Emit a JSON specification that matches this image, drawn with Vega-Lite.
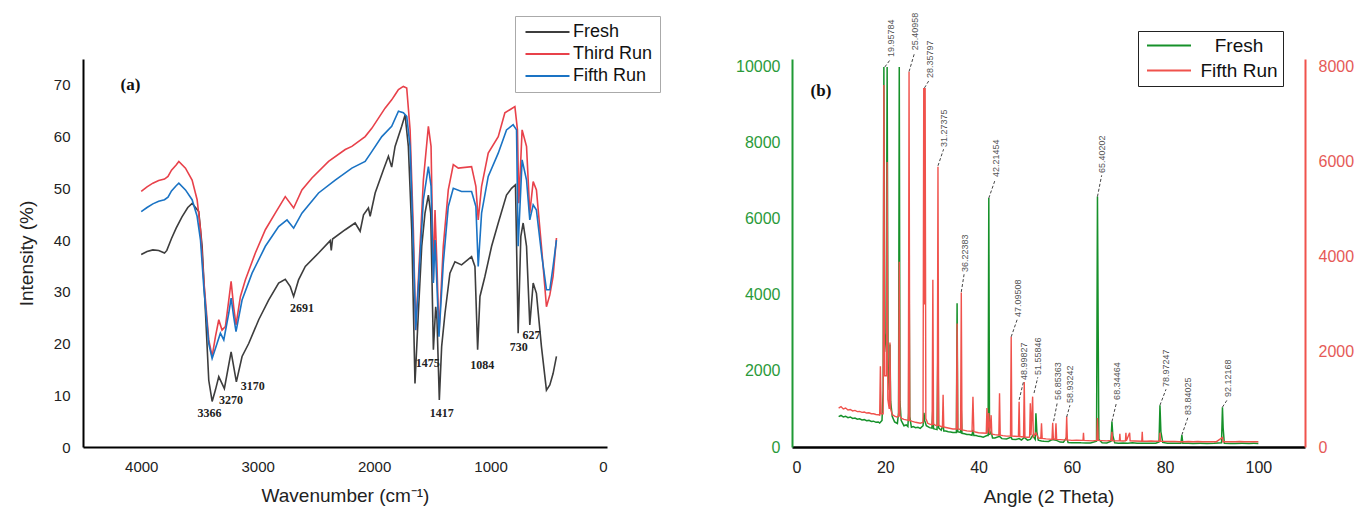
{
  "$schema": "https://vega.github.io/schema/vega-lite/v6.json",
  "background": "white",
  "padding": {"left": 17, "top": 12, "right": 2, "bottom": 2},
  "bounds": "flush",
  "spacing": 185,
  "config": {
    "view": {"stroke": null},
    "font": "Liberation Sans",
    "axis": {"grid": false, "ticks": false, "tickSize": 0, "labelFont": "Liberation Sans", "titleFont": "Liberation Sans", "titleFontWeight": "normal", "labelColor": "#222222", "titleColor": "#222222"}
  },
  "resolve": {"scale": {"color": "independent"}, "legend": {"color": "independent"}},
  "datasets": {
    "ftir": [
      {"s":"Fresh","w":4000,"v":37.2},{"s":"Fresh","w":3950,"v":37.8},{"s":"Fresh","w":3900,"v":38.1},{"s":"Fresh","w":3850,"v":38.0},{"s":"Fresh","w":3800,"v":37.5},{"s":"Fresh","w":3780,"v":38.0},{"s":"Fresh","w":3740,"v":40.3},{"s":"Fresh","w":3700,"v":42.3},{"s":"Fresh","w":3650,"v":44.5},{"s":"Fresh","w":3600,"v":46.3},{"s":"Fresh","w":3563,"v":47.1},{"s":"Fresh","w":3506,"v":45.5},{"s":"Fresh","w":3477,"v":38.8},{"s":"Fresh","w":3448,"v":25.9},{"s":"Fresh","w":3420,"v":12.9},{"s":"Fresh","w":3391,"v":8.8},{"s":"Fresh","w":3363,"v":11.0},{"s":"Fresh","w":3334,"v":13.6},{"s":"Fresh","w":3286,"v":11.3},{"s":"Fresh","w":3228,"v":18.4},{"s":"Fresh","w":3183,"v":12.6},{"s":"Fresh","w":3134,"v":17.5},{"s":"Fresh","w":3077,"v":20.0},{"s":"Fresh","w":2991,"v":24.6},{"s":"Fresh","w":2906,"v":28.4},{"s":"Fresh","w":2820,"v":31.7},{"s":"Fresh","w":2763,"v":32.4},{"s":"Fresh","w":2720,"v":31.0},{"s":"Fresh","w":2691,"v":29.1},{"s":"Fresh","w":2649,"v":32.3},{"s":"Fresh","w":2591,"v":34.9},{"s":"Fresh","w":2477,"v":37.5},{"s":"Fresh","w":2377,"v":39.9},{"s":"Fresh","w":2368,"v":38.0},{"s":"Fresh","w":2357,"v":40.2},{"s":"Fresh","w":2248,"v":42.0},{"s":"Fresh","w":2163,"v":43.3},{"s":"Fresh","w":2120,"v":41.7},{"s":"Fresh","w":2091,"v":44.9},{"s":"Fresh","w":2049,"v":46.2},{"s":"Fresh","w":2034,"v":44.6},{"s":"Fresh","w":1991,"v":49.1},{"s":"Fresh","w":1920,"v":53.6},{"s":"Fresh","w":1877,"v":56.2},{"s":"Fresh","w":1849,"v":54.1},{"s":"Fresh","w":1820,"v":58.1},{"s":"Fresh","w":1763,"v":62.0},{"s":"Fresh","w":1734,"v":64.2},{"s":"Fresh","w":1706,"v":58.1},{"s":"Fresh","w":1677,"v":42.0},{"s":"Fresh","w":1649,"v":12.3},{"s":"Fresh","w":1620,"v":25.9},{"s":"Fresh","w":1591,"v":38.8},{"s":"Fresh","w":1563,"v":45.2},{"s":"Fresh","w":1534,"v":48.7},{"s":"Fresh","w":1514,"v":45.2},{"s":"Fresh","w":1491,"v":18.8},{"s":"Fresh","w":1471,"v":27.1},{"s":"Fresh","w":1460,"v":24.6},{"s":"Fresh","w":1440,"v":9.1},{"s":"Fresh","w":1420,"v":19.4},{"s":"Fresh","w":1391,"v":25.9},{"s":"Fresh","w":1349,"v":33.6},{"s":"Fresh","w":1306,"v":35.8},{"s":"Fresh","w":1249,"v":35.2},{"s":"Fresh","w":1163,"v":36.8},{"s":"Fresh","w":1134,"v":34.9},{"s":"Fresh","w":1111,"v":18.8},{"s":"Fresh","w":1091,"v":29.1},{"s":"Fresh","w":1049,"v":32.9},{"s":"Fresh","w":991,"v":38.8},{"s":"Fresh","w":934,"v":43.3},{"s":"Fresh","w":863,"v":48.7},{"s":"Fresh","w":820,"v":50.0},{"s":"Fresh","w":786,"v":50.7},{"s":"Fresh","w":763,"v":22.0},{"s":"Fresh","w":740,"v":40.7},{"s":"Fresh","w":720,"v":43.3},{"s":"Fresh","w":691,"v":38.8},{"s":"Fresh","w":663,"v":23.6},{"s":"Fresh","w":634,"v":31.7},{"s":"Fresh","w":606,"v":29.7},{"s":"Fresh","w":563,"v":19.4},{"s":"Fresh","w":520,"v":11.0},{"s":"Fresh","w":491,"v":12.0},{"s":"Fresh","w":463,"v":14.2},{"s":"Fresh","w":434,"v":17.5},
      {"s":"Third Run","w":4000,"v":49.4},{"s":"Third Run","w":3950,"v":50.3},{"s":"Third Run","w":3900,"v":51.0},{"s":"Third Run","w":3850,"v":51.5},{"s":"Third Run","w":3800,"v":51.8},{"s":"Third Run","w":3770,"v":52.3},{"s":"Third Run","w":3740,"v":53.5},{"s":"Third Run","w":3700,"v":54.5},{"s":"Third Run","w":3677,"v":55.2},{"s":"Third Run","w":3620,"v":53.9},{"s":"Third Run","w":3563,"v":51.6},{"s":"Third Run","w":3520,"v":47.8},{"s":"Third Run","w":3491,"v":42.0},{"s":"Third Run","w":3463,"v":32.3},{"s":"Third Run","w":3420,"v":20.7},{"s":"Third Run","w":3391,"v":17.5},{"s":"Third Run","w":3363,"v":21.3},{"s":"Third Run","w":3334,"v":24.6},{"s":"Third Run","w":3306,"v":22.6},{"s":"Third Run","w":3277,"v":23.3},{"s":"Third Run","w":3248,"v":28.4},{"s":"Third Run","w":3228,"v":32.0},{"s":"Third Run","w":3206,"v":27.1},{"s":"Third Run","w":3186,"v":23.6},{"s":"Third Run","w":3148,"v":29.1},{"s":"Third Run","w":3106,"v":32.3},{"s":"Third Run","w":3020,"v":37.5},{"s":"Third Run","w":2934,"v":42.0},{"s":"Third Run","w":2849,"v":45.2},{"s":"Third Run","w":2763,"v":48.4},{"s":"Third Run","w":2691,"v":46.2},{"s":"Third Run","w":2620,"v":49.7},{"s":"Third Run","w":2534,"v":52.0},{"s":"Third Run","w":2391,"v":55.2},{"s":"Third Run","w":2248,"v":57.5},{"s":"Third Run","w":2191,"v":58.1},{"s":"Third Run","w":2077,"v":60.0},{"s":"Third Run","w":2020,"v":61.6},{"s":"Third Run","w":1906,"v":65.5},{"s":"Third Run","w":1849,"v":67.1},{"s":"Third Run","w":1820,"v":68.1},{"s":"Third Run","w":1791,"v":69.1},{"s":"Third Run","w":1749,"v":69.7},{"s":"Third Run","w":1720,"v":69.4},{"s":"Third Run","w":1691,"v":61.3},{"s":"Third Run","w":1663,"v":42.0},{"s":"Third Run","w":1643,"v":22.6},{"s":"Third Run","w":1620,"v":32.3},{"s":"Third Run","w":1577,"v":51.6},{"s":"Third Run","w":1534,"v":62.0},{"s":"Third Run","w":1511,"v":58.1},{"s":"Third Run","w":1491,"v":32.3},{"s":"Third Run","w":1477,"v":45.8},{"s":"Third Run","w":1460,"v":34.9},{"s":"Third Run","w":1443,"v":22.0},{"s":"Third Run","w":1406,"v":38.8},{"s":"Third Run","w":1363,"v":49.7},{"s":"Third Run","w":1320,"v":54.6},{"s":"Third Run","w":1277,"v":53.9},{"s":"Third Run","w":1163,"v":54.2},{"s":"Third Run","w":1126,"v":50.4},{"s":"Third Run","w":1106,"v":43.9},{"s":"Third Run","w":1077,"v":50.4},{"s":"Third Run","w":1020,"v":56.8},{"s":"Third Run","w":934,"v":60.0},{"s":"Third Run","w":877,"v":64.6},{"s":"Third Run","w":834,"v":65.2},{"s":"Third Run","w":791,"v":65.8},{"s":"Third Run","w":769,"v":61.3},{"s":"Third Run","w":757,"v":47.1},{"s":"Third Run","w":729,"v":61.3},{"s":"Third Run","w":691,"v":58.1},{"s":"Third Run","w":663,"v":45.2},{"s":"Third Run","w":634,"v":51.3},{"s":"Third Run","w":606,"v":49.7},{"s":"Third Run","w":563,"v":38.8},{"s":"Third Run","w":534,"v":31.0},{"s":"Third Run","w":520,"v":27.1},{"s":"Third Run","w":491,"v":29.4},{"s":"Third Run","w":463,"v":33.0},{"s":"Third Run","w":434,"v":40.4},
      {"s":"Fifth Run","w":4000,"v":45.5},{"s":"Fifth Run","w":3950,"v":46.3},{"s":"Fifth Run","w":3900,"v":47.0},{"s":"Fifth Run","w":3850,"v":47.5},{"s":"Fifth Run","w":3800,"v":47.8},{"s":"Fifth Run","w":3770,"v":48.3},{"s":"Fifth Run","w":3740,"v":49.5},{"s":"Fifth Run","w":3700,"v":50.5},{"s":"Fifth Run","w":3677,"v":51.0},{"s":"Fifth Run","w":3620,"v":49.7},{"s":"Fifth Run","w":3563,"v":47.8},{"s":"Fifth Run","w":3520,"v":44.6},{"s":"Fifth Run","w":3491,"v":40.0},{"s":"Fifth Run","w":3463,"v":31.0},{"s":"Fifth Run","w":3420,"v":20.0},{"s":"Fifth Run","w":3391,"v":17.1},{"s":"Fifth Run","w":3349,"v":20.0},{"s":"Fifth Run","w":3320,"v":22.0},{"s":"Fifth Run","w":3291,"v":20.7},{"s":"Fifth Run","w":3248,"v":25.9},{"s":"Fifth Run","w":3228,"v":28.8},{"s":"Fifth Run","w":3206,"v":25.2},{"s":"Fifth Run","w":3186,"v":22.3},{"s":"Fifth Run","w":3134,"v":28.4},{"s":"Fifth Run","w":3048,"v":33.6},{"s":"Fifth Run","w":2934,"v":38.8},{"s":"Fifth Run","w":2820,"v":42.6},{"s":"Fifth Run","w":2748,"v":43.9},{"s":"Fifth Run","w":2691,"v":42.3},{"s":"Fifth Run","w":2620,"v":45.2},{"s":"Fifth Run","w":2477,"v":49.1},{"s":"Fifth Run","w":2334,"v":51.6},{"s":"Fifth Run","w":2191,"v":53.9},{"s":"Fifth Run","w":2077,"v":55.2},{"s":"Fifth Run","w":2020,"v":57.1},{"s":"Fifth Run","w":1934,"v":60.0},{"s":"Fifth Run","w":1849,"v":62.0},{"s":"Fifth Run","w":1791,"v":64.9},{"s":"Fifth Run","w":1749,"v":64.6},{"s":"Fifth Run","w":1720,"v":63.9},{"s":"Fifth Run","w":1691,"v":58.1},{"s":"Fifth Run","w":1663,"v":38.8},{"s":"Fifth Run","w":1643,"v":22.6},{"s":"Fifth Run","w":1620,"v":31.0},{"s":"Fifth Run","w":1577,"v":47.8},{"s":"Fifth Run","w":1534,"v":54.2},{"s":"Fifth Run","w":1511,"v":50.4},{"s":"Fifth Run","w":1491,"v":31.7},{"s":"Fifth Run","w":1477,"v":40.0},{"s":"Fifth Run","w":1460,"v":31.0},{"s":"Fifth Run","w":1443,"v":21.3},{"s":"Fifth Run","w":1406,"v":35.5},{"s":"Fifth Run","w":1363,"v":46.5},{"s":"Fifth Run","w":1320,"v":50.0},{"s":"Fifth Run","w":1249,"v":49.4},{"s":"Fifth Run","w":1163,"v":49.4},{"s":"Fifth Run","w":1126,"v":46.5},{"s":"Fifth Run","w":1106,"v":34.9},{"s":"Fifth Run","w":1077,"v":45.2},{"s":"Fifth Run","w":1020,"v":52.3},{"s":"Fifth Run","w":934,"v":56.8},{"s":"Fifth Run","w":863,"v":61.3},{"s":"Fifth Run","w":806,"v":62.3},{"s":"Fifth Run","w":777,"v":61.3},{"s":"Fifth Run","w":763,"v":38.8},{"s":"Fifth Run","w":729,"v":55.5},{"s":"Fifth Run","w":691,"v":51.6},{"s":"Fifth Run","w":663,"v":43.9},{"s":"Fifth Run","w":634,"v":46.8},{"s":"Fifth Run","w":606,"v":45.8},{"s":"Fifth Run","w":563,"v":37.5},{"s":"Fifth Run","w":520,"v":30.4},{"s":"Fifth Run","w":491,"v":30.4},{"s":"Fifth Run","w":463,"v":34.9},{"s":"Fifth Run","w":434,"v":40.0}
    ],
    "ftirLabels": [
      {"w":3414,"v":6.5,"t":"3366"},{"w":3228,"v":9.0,"t":"3270"},{"w":3043,"v":11.7,"t":"3170"},{"w":2620,"v":26.8,"t":"2691"},{"w":1540,"v":16.3,"t":"1475"},{"w":1420,"v":6.5,"t":"1417"},{"w":1071,"v":15.9,"t":"1084"},{"w":757,"v":19.3,"t":"730"},{"w":649,"v":21.7,"t":"627"}
    ],
    "xrdFresh": [
      {"s":"Fresh","a":10,"i":800},{"s":"Fresh","a":10.5,"i":830},{"s":"Fresh","a":11,"i":790},{"s":"Fresh","a":11.5,"i":810},{"s":"Fresh","a":12,"i":770},{"s":"Fresh","a":12.5,"i":790},{"s":"Fresh","a":13,"i":750},{"s":"Fresh","a":13.5,"i":760},{"s":"Fresh","a":14,"i":730},{"s":"Fresh","a":14.5,"i":740},{"s":"Fresh","a":15,"i":710},{"s":"Fresh","a":15.5,"i":720},{"s":"Fresh","a":16,"i":690},{"s":"Fresh","a":16.5,"i":700},{"s":"Fresh","a":17,"i":670},{"s":"Fresh","a":17.5,"i":680},{"s":"Fresh","a":18,"i":650},{"s":"Fresh","a":18.5,"i":660},{"s":"Fresh","a":18.8,"i":630},{"s":"Fresh","a":19.3,"i":700},{"s":"Fresh","a":19.55,"i":1500},{"s":"Fresh","a":19.7,"i":10000},{"s":"Fresh","a":19.85,"i":2500},{"s":"Fresh","a":20.2,"i":3000},{"s":"Fresh","a":20.4,"i":10000},{"s":"Fresh","a":20.6,"i":2000},{"s":"Fresh","a":20.85,"i":1500},{"s":"Fresh","a":21.0,"i":2700},{"s":"Fresh","a":21.15,"i":1200},{"s":"Fresh","a":21.5,"i":800},{"s":"Fresh","a":22,"i":660},{"s":"Fresh","a":22.6,"i":620},{"s":"Fresh","a":22.85,"i":900},{"s":"Fresh","a":23.0,"i":10000},{"s":"Fresh","a":23.15,"i":1200},{"s":"Fresh","a":23.4,"i":700},{"s":"Fresh","a":24,"i":560},{"s":"Fresh","a":24.5,"i":580},{"s":"Fresh","a":24.85,"i":540},{"s":"Fresh","a":25.0,"i":900},{"s":"Fresh","a":25.1,"i":5100},{"s":"Fresh","a":25.25,"i":800},{"s":"Fresh","a":25.6,"i":520},{"s":"Fresh","a":26,"i":540},{"s":"Fresh","a":26.5,"i":510},{"s":"Fresh","a":27,"i":520},{"s":"Fresh","a":27.5,"i":490},{"s":"Fresh","a":28.1,"i":560},{"s":"Fresh","a":28.3,"i":900},{"s":"Fresh","a":28.45,"i":700},{"s":"Fresh","a":28.8,"i":560},{"s":"Fresh","a":29.5,"i":510},{"s":"Fresh","a":30.0,"i":500},{"s":"Fresh","a":30.2,"i":1000},{"s":"Fresh","a":30.35,"i":480},{"s":"Fresh","a":30.7,"i":470},{"s":"Fresh","a":31.1,"i":460},{"s":"Fresh","a":31.3,"i":2770},{"s":"Fresh","a":31.45,"i":500},{"s":"Fresh","a":32.0,"i":440},{"s":"Fresh","a":32.4,"i":600},{"s":"Fresh","a":32.55,"i":420},{"s":"Fresh","a":33,"i":420},{"s":"Fresh","a":33.5,"i":400},{"s":"Fresh","a":34,"i":395},{"s":"Fresh","a":34.5,"i":380},{"s":"Fresh","a":35.25,"i":380},{"s":"Fresh","a":35.4,"i":3780},{"s":"Fresh","a":35.55,"i":400},{"s":"Fresh","a":36.15,"i":380},{"s":"Fresh","a":36.3,"i":970},{"s":"Fresh","a":36.45,"i":360},{"s":"Fresh","a":37,"i":350},{"s":"Fresh","a":37.5,"i":330},{"s":"Fresh","a":38,"i":330},{"s":"Fresh","a":38.6,"i":310},{"s":"Fresh","a":38.8,"i":450},{"s":"Fresh","a":39.0,"i":300},{"s":"Fresh","a":39.5,"i":300},{"s":"Fresh","a":40.0,"i":280},{"s":"Fresh","a":40.5,"i":275},{"s":"Fresh","a":41.0,"i":260},{"s":"Fresh","a":41.8,"i":300},{"s":"Fresh","a":42.05,"i":300},{"s":"Fresh","a":42.2,"i":6550},{"s":"Fresh","a":42.35,"i":320},{"s":"Fresh","a":42.7,"i":400},{"s":"Fresh","a":43.0,"i":240},{"s":"Fresh","a":43.5,"i":240},{"s":"Fresh","a":44.5,"i":280},{"s":"Fresh","a":45,"i":220},{"s":"Fresh","a":46,"i":210},{"s":"Fresh","a":47.0,"i":260},{"s":"Fresh","a":47.2,"i":200},{"s":"Fresh","a":48,"i":195},{"s":"Fresh","a":48.7,"i":220},{"s":"Fresh","a":49.2,"i":185},{"s":"Fresh","a":49.8,"i":250},{"s":"Fresh","a":50.5,"i":180},{"s":"Fresh","a":51.1,"i":200},{"s":"Fresh","a":51.6,"i":300},{"s":"Fresh","a":52.15,"i":200},{"s":"Fresh","a":52.3,"i":890},{"s":"Fresh","a":52.5,"i":400},{"s":"Fresh","a":52.8,"i":180},{"s":"Fresh","a":53.5,"i":160},{"s":"Fresh","a":54,"i":150},{"s":"Fresh","a":55,"i":145},{"s":"Fresh","a":55.9,"i":200},{"s":"Fresh","a":56.6,"i":180},{"s":"Fresh","a":57.5,"i":130},{"s":"Fresh","a":58.2,"i":125},{"s":"Fresh","a":58.9,"i":250},{"s":"Fresh","a":59.2,"i":120},{"s":"Fresh","a":60,"i":110},{"s":"Fresh","a":61,"i":115},{"s":"Fresh","a":62,"i":110},{"s":"Fresh","a":63,"i":108},{"s":"Fresh","a":64,"i":105},{"s":"Fresh","a":65.3,"i":150},{"s":"Fresh","a":65.5,"i":6590},{"s":"Fresh","a":65.65,"i":3100},{"s":"Fresh","a":65.8,"i":200},{"s":"Fresh","a":66.5,"i":110},{"s":"Fresh","a":67.5,"i":105},{"s":"Fresh","a":68.4,"i":150},{"s":"Fresh","a":68.6,"i":670},{"s":"Fresh","a":68.8,"i":300},{"s":"Fresh","a":69.2,"i":110},{"s":"Fresh","a":70,"i":100},{"s":"Fresh","a":71,"i":105},{"s":"Fresh","a":72,"i":100},{"s":"Fresh","a":73,"i":110},{"s":"Fresh","a":74,"i":100},{"s":"Fresh","a":75,"i":100},{"s":"Fresh","a":76,"i":98},{"s":"Fresh","a":77,"i":100},{"s":"Fresh","a":78,"i":98},{"s":"Fresh","a":78.7,"i":130},{"s":"Fresh","a":78.9,"i":1100},{"s":"Fresh","a":79.1,"i":400},{"s":"Fresh","a":79.5,"i":120},{"s":"Fresh","a":80.5,"i":100},{"s":"Fresh","a":81,"i":100},{"s":"Fresh","a":82,"i":98},{"s":"Fresh","a":83.4,"i":100},{"s":"Fresh","a":83.6,"i":315},{"s":"Fresh","a":83.8,"i":100},{"s":"Fresh","a":85,"i":96},{"s":"Fresh","a":86,"i":95},{"s":"Fresh","a":87.5,"i":96},{"s":"Fresh","a":89,"i":95},{"s":"Fresh","a":90.5,"i":96},{"s":"Fresh","a":92.1,"i":110},{"s":"Fresh","a":92.3,"i":1045},{"s":"Fresh","a":92.45,"i":500},{"s":"Fresh","a":92.7,"i":100},{"s":"Fresh","a":94,"i":95},{"s":"Fresh","a":95,"i":95},{"s":"Fresh","a":96.5,"i":96},{"s":"Fresh","a":98,"i":95},{"s":"Fresh","a":99,"i":96},{"s":"Fresh","a":100,"i":95}
    ],
    "xrdFifth": [
      {"s":"Fifth Run","a":10,"i":820},{"s":"Fifth Run","a":10.5,"i":850},{"s":"Fifth Run","a":11,"i":800},{"s":"Fifth Run","a":11.5,"i":820},{"s":"Fifth Run","a":12,"i":780},{"s":"Fifth Run","a":12.5,"i":790},{"s":"Fifth Run","a":13,"i":760},{"s":"Fifth Run","a":13.5,"i":770},{"s":"Fifth Run","a":14,"i":745},{"s":"Fifth Run","a":14.5,"i":750},{"s":"Fifth Run","a":15,"i":730},{"s":"Fifth Run","a":15.5,"i":735},{"s":"Fifth Run","a":16,"i":715},{"s":"Fifth Run","a":16.5,"i":720},{"s":"Fifth Run","a":17,"i":700},{"s":"Fifth Run","a":17.5,"i":700},{"s":"Fifth Run","a":18,"i":685},{"s":"Fifth Run","a":18.5,"i":680},{"s":"Fifth Run","a":18.8,"i":670},{"s":"Fifth Run","a":18.95,"i":1700},{"s":"Fifth Run","a":19.1,"i":700},{"s":"Fifth Run","a":19.55,"i":700},{"s":"Fifth Run","a":19.7,"i":7620},{"s":"Fifth Run","a":19.85,"i":1500},{"s":"Fifth Run","a":20.25,"i":1500},{"s":"Fifth Run","a":20.4,"i":6000},{"s":"Fifth Run","a":20.55,"i":1000},{"s":"Fifth Run","a":20.85,"i":800},{"s":"Fifth Run","a":21.0,"i":2200},{"s":"Fifth Run","a":21.15,"i":800},{"s":"Fifth Run","a":21.5,"i":680},{"s":"Fifth Run","a":22,"i":650},{"s":"Fifth Run","a":22.5,"i":630},{"s":"Fifth Run","a":22.85,"i":650},{"s":"Fifth Run","a":23.0,"i":3900},{"s":"Fifth Run","a":23.15,"i":650},{"s":"Fifth Run","a":23.5,"i":600},{"s":"Fifth Run","a":24.0,"i":580},{"s":"Fifth Run","a":24.5,"i":570},{"s":"Fifth Run","a":24.95,"i":560},{"s":"Fifth Run","a":25.1,"i":7900},{"s":"Fifth Run","a":25.25,"i":560},{"s":"Fifth Run","a":25.8,"i":540},{"s":"Fifth Run","a":26.5,"i":520},{"s":"Fifth Run","a":27,"i":510},{"s":"Fifth Run","a":27.5,"i":500},{"s":"Fifth Run","a":28.1,"i":520},{"s":"Fifth Run","a":28.25,"i":7560},{"s":"Fifth Run","a":28.4,"i":3000},{"s":"Fifth Run","a":28.55,"i":7560},{"s":"Fifth Run","a":28.7,"i":600},{"s":"Fifth Run","a":29.1,"i":500},{"s":"Fifth Run","a":29.5,"i":480},{"s":"Fifth Run","a":30.05,"i":470},{"s":"Fifth Run","a":30.2,"i":3520},{"s":"Fifth Run","a":30.35,"i":480},{"s":"Fifth Run","a":30.7,"i":460},{"s":"Fifth Run","a":31.15,"i":450},{"s":"Fifth Run","a":31.3,"i":5900},{"s":"Fifth Run","a":31.45,"i":460},{"s":"Fifth Run","a":31.8,"i":440},{"s":"Fifth Run","a":32.25,"i":420},{"s":"Fifth Run","a":32.4,"i":1100},{"s":"Fifth Run","a":32.55,"i":420},{"s":"Fifth Run","a":33,"i":410},{"s":"Fifth Run","a":33.5,"i":400},{"s":"Fifth Run","a":34,"i":390},{"s":"Fifth Run","a":34.5,"i":380},{"s":"Fifth Run","a":35.25,"i":380},{"s":"Fifth Run","a":35.4,"i":2600},{"s":"Fifth Run","a":35.55,"i":380},{"s":"Fifth Run","a":36.15,"i":370},{"s":"Fifth Run","a":36.3,"i":3250},{"s":"Fifth Run","a":36.45,"i":360},{"s":"Fifth Run","a":37,"i":350},{"s":"Fifth Run","a":37.5,"i":340},{"s":"Fifth Run","a":38,"i":335},{"s":"Fifth Run","a":38.6,"i":330},{"s":"Fifth Run","a":38.8,"i":1060},{"s":"Fifth Run","a":39.0,"i":320},{"s":"Fifth Run","a":39.5,"i":310},{"s":"Fifth Run","a":40.0,"i":300},{"s":"Fifth Run","a":40.8,"i":295},{"s":"Fifth Run","a":41.65,"i":290},{"s":"Fifth Run","a":41.8,"i":820},{"s":"Fifth Run","a":41.95,"i":290},{"s":"Fifth Run","a":42.2,"i":715},{"s":"Fifth Run","a":42.4,"i":280},{"s":"Fifth Run","a":42.7,"i":670},{"s":"Fifth Run","a":42.85,"i":270},{"s":"Fifth Run","a":43.5,"i":260},{"s":"Fifth Run","a":44.35,"i":250},{"s":"Fifth Run","a":44.5,"i":1130},{"s":"Fifth Run","a":44.65,"i":250},{"s":"Fifth Run","a":45.2,"i":240},{"s":"Fifth Run","a":46.0,"i":230},{"s":"Fifth Run","a":46.85,"i":230},{"s":"Fifth Run","a":47.0,"i":2320},{"s":"Fifth Run","a":47.15,"i":230},{"s":"Fifth Run","a":47.8,"i":225},{"s":"Fifth Run","a":48.55,"i":220},{"s":"Fifth Run","a":48.7,"i":950},{"s":"Fifth Run","a":48.85,"i":220},{"s":"Fifth Run","a":49.65,"i":210},{"s":"Fifth Run","a":49.8,"i":1370},{"s":"Fifth Run","a":49.95,"i":210},{"s":"Fifth Run","a":50.5,"i":205},{"s":"Fifth Run","a":50.95,"i":210},{"s":"Fifth Run","a":51.1,"i":920},{"s":"Fifth Run","a":51.25,"i":250},{"s":"Fifth Run","a":51.6,"i":1060},{"s":"Fifth Run","a":51.75,"i":220},{"s":"Fifth Run","a":52.3,"i":300},{"s":"Fifth Run","a":52.8,"i":190},{"s":"Fifth Run","a":53.35,"i":180},{"s":"Fifth Run","a":53.5,"i":500},{"s":"Fifth Run","a":53.65,"i":180},{"s":"Fifth Run","a":54.5,"i":170},{"s":"Fifth Run","a":55.2,"i":165},{"s":"Fifth Run","a":55.75,"i":160},{"s":"Fifth Run","a":55.9,"i":510},{"s":"Fifth Run","a":56.05,"i":170},{"s":"Fifth Run","a":56.45,"i":160},{"s":"Fifth Run","a":56.6,"i":500},{"s":"Fifth Run","a":56.75,"i":160},{"s":"Fifth Run","a":57.5,"i":155},{"s":"Fifth Run","a":58.2,"i":150},{"s":"Fifth Run","a":58.75,"i":150},{"s":"Fifth Run","a":58.9,"i":640},{"s":"Fifth Run","a":59.05,"i":150},{"s":"Fifth Run","a":60,"i":140},{"s":"Fifth Run","a":61,"i":142},{"s":"Fifth Run","a":62.4,"i":140},{"s":"Fifth Run","a":62.5,"i":300},{"s":"Fifth Run","a":62.6,"i":140},{"s":"Fifth Run","a":63.5,"i":135},{"s":"Fifth Run","a":64.5,"i":130},{"s":"Fifth Run","a":65.35,"i":140},{"s":"Fifth Run","a":65.5,"i":610},{"s":"Fifth Run","a":65.65,"i":140},{"s":"Fifth Run","a":66.5,"i":135},{"s":"Fifth Run","a":67.5,"i":130},{"s":"Fifth Run","a":68.45,"i":140},{"s":"Fifth Run","a":68.6,"i":320},{"s":"Fifth Run","a":68.75,"i":130},{"s":"Fifth Run","a":69.5,"i":130},{"s":"Fifth Run","a":70.2,"i":130},{"s":"Fifth Run","a":70.3,"i":280},{"s":"Fifth Run","a":70.4,"i":130},{"s":"Fifth Run","a":71,"i":125},{"s":"Fifth Run","a":71.5,"i":130},{"s":"Fifth Run","a":71.6,"i":300},{"s":"Fifth Run","a":71.7,"i":130},{"s":"Fifth Run","a":72.4,"i":300},{"s":"Fifth Run","a":72.5,"i":130},{"s":"Fifth Run","a":73.5,"i":125},{"s":"Fifth Run","a":75.0,"i":120},{"s":"Fifth Run","a":75.1,"i":320},{"s":"Fifth Run","a":75.2,"i":120},{"s":"Fifth Run","a":76,"i":120},{"s":"Fifth Run","a":77,"i":125},{"s":"Fifth Run","a":77.8,"i":120},{"s":"Fifth Run","a":78.8,"i":120},{"s":"Fifth Run","a":78.9,"i":300},{"s":"Fifth Run","a":79.0,"i":120},{"s":"Fifth Run","a":80,"i":118},{"s":"Fifth Run","a":81,"i":115},{"s":"Fifth Run","a":82,"i":118},{"s":"Fifth Run","a":83,"i":112},{"s":"Fifth Run","a":84,"i":112},{"s":"Fifth Run","a":85,"i":115},{"s":"Fifth Run","a":86,"i":110},{"s":"Fifth Run","a":87,"i":115},{"s":"Fifth Run","a":88,"i":112},{"s":"Fifth Run","a":89,"i":110},{"s":"Fifth Run","a":90,"i":110},{"s":"Fifth Run","a":91,"i":112},{"s":"Fifth Run","a":92.3,"i":200},{"s":"Fifth Run","a":92.4,"i":110},{"s":"Fifth Run","a":93.5,"i":112},{"s":"Fifth Run","a":95,"i":110},{"s":"Fifth Run","a":96,"i":115},{"s":"Fifth Run","a":97,"i":110},{"s":"Fifth Run","a":98,"i":112},{"s":"Fifth Run","a":99,"i":110},{"s":"Fifth Run","a":100,"i":110}
    ],
    "xrdLabels": [
      {"t":"19.95784","a":21.2,"i":10260,"a1":19.9,"i1":10000,"a2":21.1,"i2":10200},
      {"t":"25.40958","a":26.4,"i":10440,"a1":25.1,"i1":9880,"a2":26.3,"i2":10380},
      {"t":"28.35797","a":29.5,"i":9710,"a1":28.4,"i1":9450,"a2":29.4,"i2":9650},
      {"t":"31.27375","a":32.6,"i":7895,"a1":31.3,"i1":7400,"a2":32.5,"i2":7835},
      {"t":"36.22383","a":37.0,"i":4605,"a1":36.3,"i1":4080,"a2":36.9,"i2":4545},
      {"t":"42.21454","a":43.7,"i":7105,"a1":42.2,"i1":6550,"a2":43.6,"i2":7045},
      {"t":"47.09508","a":48.4,"i":3420,"a1":47.0,"i1":2900,"a2":48.3,"i2":3360},
      {"t":"48.99827","a":49.7,"i":1760,"a1":48.7,"i1":1240,"a2":49.6,"i2":1700},
      {"t":"51.55846","a":52.8,"i":1895,"a1":51.9,"i1":1420,"a2":52.7,"i2":1835},
      {"t":"56.85363","a":57.0,"i":1240,"a1":56.1,"i1":680,"a2":56.9,"i2":1180},
      {"t":"58.93242","a":59.7,"i":1160,"a1":58.9,"i1":790,"a2":59.6,"i2":1100},
      {"t":"65.40202","a":66.5,"i":7210,"a1":65.5,"i1":6590,"a2":66.4,"i2":7150},
      {"t":"68.34464","a":69.7,"i":1240,"a1":68.6,"i1":670,"a2":69.6,"i2":1180},
      {"t":"78.97247","a":80.3,"i":1580,"a1":78.9,"i1":1100,"a2":80.2,"i2":1520},
      {"t":"83.84025","a":85.0,"i":840,"a1":83.6,"i1":320,"a2":84.9,"i2":780},
      {"t":"92.12168","a":93.5,"i":1315,"a1":92.3,"i1":1050,"a2":93.4,"i2":1255}
    ]
  },
  "hconcat": [
    {
      "width": 524,
      "height": 388,
      "layer": [
        {
          "data": {"name": "ftir"},
          "mark": {"type": "line", "strokeWidth": 1.6},
          "encoding": {
            "x": {"field": "w", "type": "quantitative", "scale": {"domain": [0, 4500], "reverse": true, "nice": false},
                  "axis": {"values": [0, 1000, 2000, 3000, 4000], "format": "d", "title": "Wavenumber (cm⁻¹)", "domainColor": "#000000", "domainWidth": 2, "labelFontSize": 15, "labelPadding": 12, "titleFontSize": 19, "titlePadding": 12}},
            "y": {"field": "v", "type": "quantitative", "scale": {"domain": [0, 75], "nice": false},
                  "axis": {"values": [0, 10, 20, 30, 40, 50, 60, 70], "title": "Intensity (%)", "domainColor": "#000000", "domainWidth": 2, "labelFontSize": 15, "labelPadding": 13, "titleFontSize": 19, "titlePadding": 17}},
            "color": {"field": "s", "type": "nominal", "scale": {"domain": ["Fresh", "Third Run", "Fifth Run"], "range": ["#3d3d3d", "#e8414a", "#1a73c4"]},
                      "legend": {"title": null, "orient": "none", "legendX": 432, "legendY": -43, "direction": "vertical", "symbolType": "M-1,0H7", "symbolSize": 121, "symbolStrokeWidth": 2, "labelOffset": 33, "labelFontSize": 18, "labelFont": "Liberation Sans", "labelColor": "#111111", "rowPadding": 4, "padding": 7, "strokeColor": "#aaaaaa", "fillColor": "white"}}
          }
        },
        {
          "data": {"name": "ftirLabels"},
          "mark": {"type": "text", "font": "Liberation Serif", "fontWeight": "bold", "fontSize": 12, "color": "#222222"},
          "encoding": {
            "x": {"field": "w", "type": "quantitative"},
            "y": {"field": "v", "type": "quantitative"},
            "text": {"field": "t"}
          }
        },
        {
          "data": {"values": [{"w": 4092, "v": 70, "t": "(a)"}]},
          "mark": {"type": "text", "font": "Liberation Serif", "fontWeight": "bold", "fontSize": 17, "color": "#111111"},
          "encoding": {
            "x": {"field": "w", "type": "quantitative"},
            "y": {"field": "v", "type": "quantitative"},
            "text": {"field": "t"}
          }
        }
      ]
    },
    {
      "width": 513,
      "height": 388,
      "encoding": {
        "x": {"field": "a", "type": "quantitative", "scale": {"domain": [0, 110], "nice": false},
              "axis": {"values": [0, 20, 40, 60, 80, 100], "title": "Angle (2 Theta)", "domainColor": "#000000", "domainWidth": 2.5, "labelFontSize": 16, "labelPadding": 12, "titleFontSize": 19, "titlePadding": 12}}
      },
      "layer": [
        {
          "data": {"name": "xrdFresh"},
          "mark": {"type": "line", "strokeWidth": 1.5},
          "encoding": {
            "y": {"field": "i", "type": "quantitative", "scale": {"domain": [0, 10210.5], "nice": false},
                  "axis": {"orient": "left", "values": [0, 2000, 4000, 6000, 8000, 10000], "format": "d", "title": null, "domainColor": "#1f9a35", "domainWidth": 2, "labelColor": "#2a9a3a", "labelFontSize": 16, "labelPadding": 12}},
            "color": {"field": "s", "type": "nominal", "scale": {"domain": ["Fresh", "Fifth Run"], "range": ["#16912a", "#f0524c"]},
                      "legend": {"title": null, "orient": "none", "legendX": 346, "legendY": -28, "direction": "vertical", "symbolType": "M-1,0H7", "symbolSize": 121, "symbolStrokeWidth": 2, "labelOffset": 77, "labelAlign": "center", "labelFontSize": 19, "labelFont": "Liberation Sans", "labelColor": "#111111", "rowPadding": 5, "padding": 5, "strokeColor": "#222222", "fillColor": "white"}}
          }
        },
        {
          "data": {"name": "xrdFifth"},
          "mark": {"type": "line", "strokeWidth": 1.4},
          "encoding": {
            "y": {"field": "i", "type": "quantitative", "scale": {"domain": [0, 8168.4], "nice": false},
                  "axis": {"orient": "right", "values": [0, 2000, 4000, 6000, 8000], "format": "d", "title": null, "domainColor": "#f0524c", "domainWidth": 2, "labelColor": "#e55a57", "labelFontSize": 16, "labelPadding": 13}},
            "color": {"field": "s", "type": "nominal", "scale": {"domain": ["Fresh", "Fifth Run"], "range": ["#16912a", "#f0524c"]}, "legend": null}
          }
        },
        {
          "data": {"name": "xrdLabels"},
          "mark": {"type": "rule", "strokeDash": [3, 2], "strokeWidth": 1, "color": "#444444"},
          "encoding": {
            "x": {"field": "a1", "type": "quantitative"},
            "y": {"field": "i1", "type": "quantitative", "scale": {"domain": [0, 10210.5], "nice": false}, "axis": null},
            "x2": {"field": "a2"},
            "y2": {"field": "i2"}
          }
        },
        {
          "data": {"name": "xrdLabels"},
          "mark": {"type": "text", "angle": 270, "align": "left", "baseline": "middle", "fontSize": 9, "font": "Liberation Sans", "color": "#555555"},
          "encoding": {
            "y": {"field": "i", "type": "quantitative", "scale": {"domain": [0, 10210.5], "nice": false}, "axis": null},
            "text": {"field": "t"}
          }
        },
        {
          "data": {"values": [{"a": 6.2, "i": 9368, "t": "(b)"}]},
          "mark": {"type": "text", "font": "Liberation Serif", "fontWeight": "bold", "fontSize": 17, "color": "#111111"},
          "encoding": {
            "y": {"field": "i", "type": "quantitative", "scale": {"domain": [0, 10210.5], "nice": false}, "axis": null},
            "text": {"field": "t"}
          }
        }
      ],
      "resolve": {"scale": {"y": "independent"}}
    }
  ]
}
